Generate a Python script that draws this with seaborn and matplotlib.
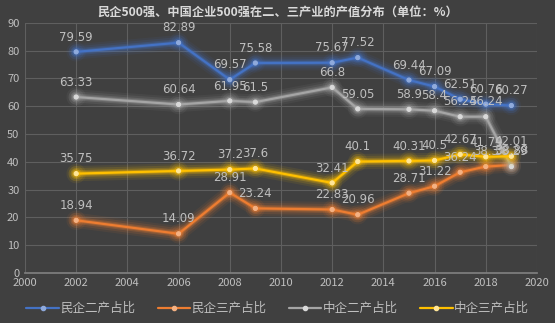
import matplotlib
matplotlib.use("Agg")
import matplotlib.pyplot as plt
import matplotlib.patheffects as pe
import seaborn as sns
import pandas as pd

years = [2002, 2006, 2008, 2009, 2012, 2013, 2015, 2016, 2017, 2018, 2019]
series_names = ["民企二产占比", "民企三产占比", "中企二产占比", "中企三产占比"]
private_secondary = [79.59, 82.89, 69.57, 75.58, 75.67, 77.52, 69.44, 67.09, 62.51, 60.76, 60.27]
private_tertiary = [18.94, 14.09, 28.91, 23.24, 22.83, 20.96, 28.71, 31.22, 36.24, 38.3, 38.88]
china_secondary = [63.33, 60.64, 61.95, 61.5, 66.8, 59.05, 58.9, 58.4, 56.24, 56.24, 38.29]
china_tertiary = [35.75, 36.72, 37.2, 37.6, 32.41, 40.1, 40.31, 40.5, 42.67, 41.79, 42.01]
title = "民企500强、中国企业500强在二、三产业的产值分布（单位：%）"

colors = ["#4472C4", "#ED7D31", "#A5A5A5", "#FFC000"]
marker_colors = ["#8FAADC", "#F4B183", "#D9D9D9", "#FFE699"]
bg = "#404040"
txt = "#D9D9D9"

sns.set_theme(style="dark")
plt.rcParams["font.family"] = ["Noto Sans CJK SC", "DejaVu Sans"]

rows = []
for name, vals in zip(series_names, [private_secondary, private_tertiary, china_secondary, china_tertiary]):
    for y, v in zip(years, vals):
        rows.append({"year": y, "value": v, "series": name})
df = pd.DataFrame(rows)

fig = plt.figure(figsize=(5.55, 3.23), dpi=100, facecolor=bg)
ax = fig.add_axes([0.045, 0.155, 0.9225, 0.774])
ax.set_facecolor(bg)

sns.lineplot(data=df, x="year", y="value", hue="series", hue_order=series_names,
             palette=colors, ax=ax, linewidth=1.6, legend=False, sort=False)

for line, c, mc in zip(ax.get_lines(), colors, marker_colors):
    line.set_marker("o")
    line.set_markersize(3)
    line.set_markerfacecolor(mc)
    line.set_markeredgecolor(mc)
    line.set_path_effects([
        pe.Stroke(linewidth=11, foreground=c, alpha=0.08),
        pe.Stroke(linewidth=8, foreground=c, alpha=0.12),
        pe.Stroke(linewidth=5, foreground=c, alpha=0.22),
        pe.Stroke(linewidth=3, foreground=c, alpha=0.35),
        pe.Normal(),
    ])

for vals in [private_secondary, private_tertiary, china_secondary, china_tertiary]:
    for x, v in zip(years, vals):
        ax.annotate(f"{v:g}", (x, v), xytext=(0, 6), textcoords="offset points",
                    ha="center", va="bottom", fontsize=8.5, color="#BFBFBF",
                    family=["DejaVu Sans"])

ax.set_xlim(2000, 2020)
ax.set_ylim(0, 90)
ax.set_xticks(range(2000, 2021, 2))
ax.set_yticks(range(0, 91, 10))
ax.grid(True, color="#5F5F5F", linewidth=0.8)
ax.set_axisbelow(True)
for s in ["top", "right", "left"]:
    ax.spines[s].set_visible(False)
ax.spines["bottom"].set_color("#7F7F7F")
ax.tick_params(axis="both", colors=txt, labelsize=8, length=0, pad=4)
for lab in ax.get_xticklabels() + ax.get_yticklabels():
    lab.set_color("#BFBFBF")
ax.set_xlabel("")
ax.set_ylabel("")

fig.text(0.5, 0.962, title, ha="center", va="center", fontsize=8.8,
         fontweight="bold", color=txt)

handles = [plt.Line2D([0], [0], color=c, lw=1.6, marker="o", markersize=3,
                      markerfacecolor=mc, markeredgecolor=mc)
           for c, mc in zip(colors, marker_colors)]
leg = fig.legend(handles, series_names, loc="center", bbox_to_anchor=(0.5, 0.045),
                 ncol=4, frameon=False, fontsize=9, handlelength=2.6,
                 handletextpad=0.1, columnspacing=1.8)
for t in leg.get_texts():
    t.set_color("#BFBFBF")

fig.savefig("out.png", dpi=100, facecolor=bg)
